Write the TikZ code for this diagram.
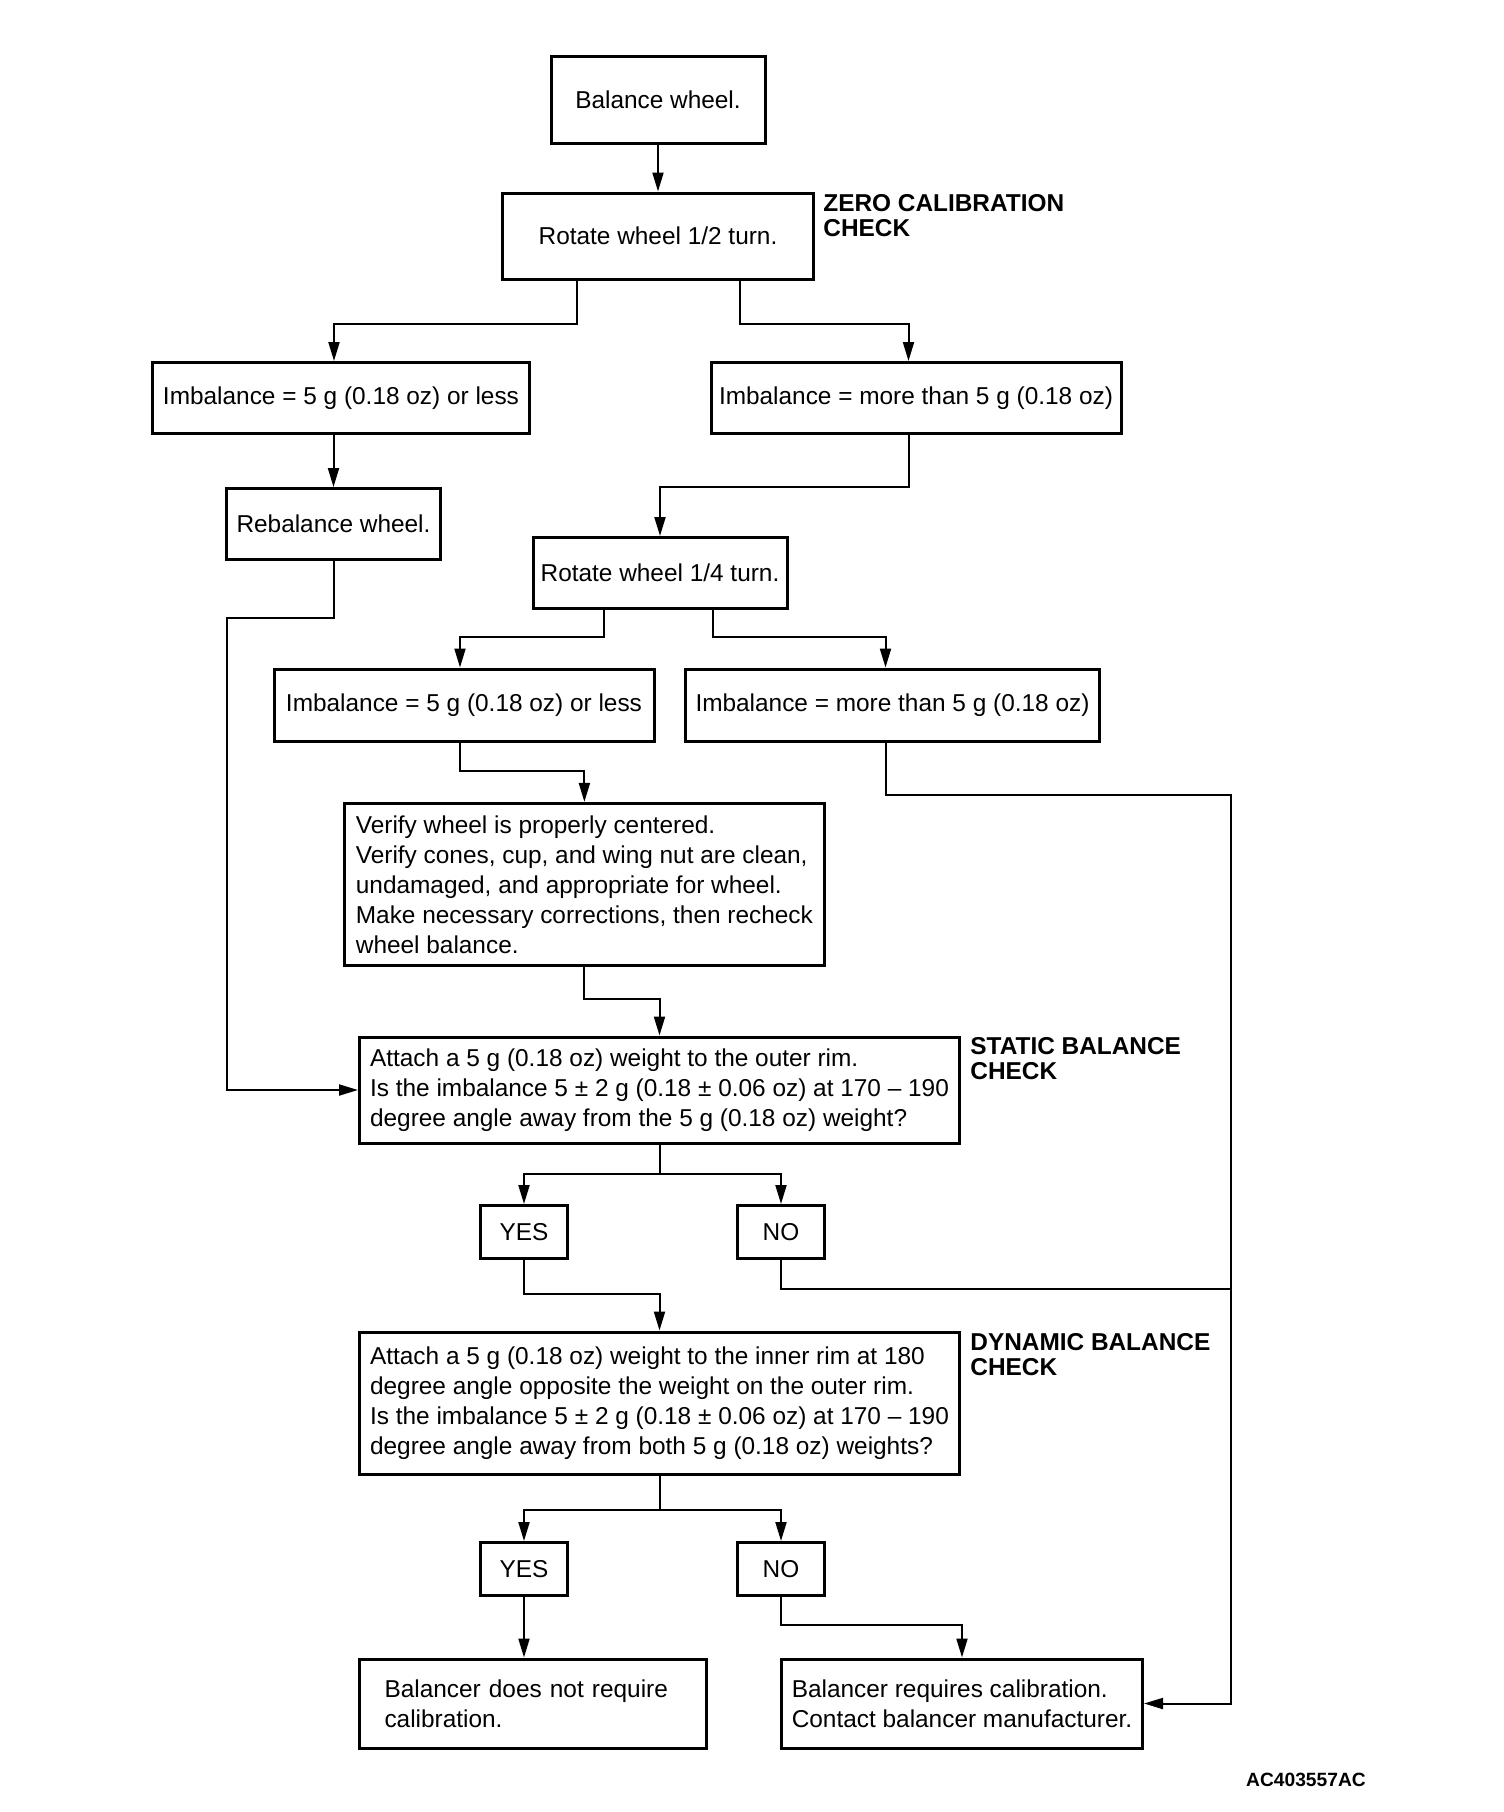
\documentclass[tikz,border=0pt]{standalone}
\usepackage{fontspec}
\setmainfont{Liberation Sans}
\usetikzlibrary{calc}
\usetikzlibrary{arrows.meta}

\begin{document}
\begin{tikzpicture}[x=0.5pt,y=-0.5pt,
  font=\fontsize{12.2}{15}\selectfont,
  box/.style={draw,line width=1.5pt,inner sep=0pt,align=left},
  tag/.style={inner sep=0pt,align=left,anchor=north west,font=\fontsize{12.2}{12.7}\selectfont\bfseries},
  link/.style={line width=1pt},
  arr/.style={link,-{Triangle[length=9.5pt,width=5.5pt]}}]
\def\u{0.5pt}
\useasboundingbox (0,0) rectangle (1504,1812);

\node[box,minimum width=214*\u,minimum height=87*\u] (bal) at (658,100) {Balance wheel.};
\node[box,minimum width=311*\u,minimum height=86*\u] (rot2) at (658,236) {Rotate wheel 1/2 turn.};
\node[tag] (zero) at (823,194) {ZERO CALIBRATION\\CHECK};
\node[box,minimum width=377*\u,minimum height=71*\u] (imbA) at (341,398) {Imbalance = 5 g (0.18 oz) or less};
\node[box,minimum width=410*\u,minimum height=71*\u] (imbB) at (916,398) {Imbalance = more than 5 g (0.18 oz)};
\node[box,minimum width=214*\u,minimum height=71*\u] (rebal) at (333.5,524) {Rebalance wheel.};
\node[box,minimum width=254*\u,minimum height=71*\u] (rot4) at (660,573) {Rotate wheel 1/4 turn.};
\node[box,minimum width=380*\u,minimum height=72*\u] (imbC) at (464,705) {Imbalance = 5 g (0.18 oz) or less};
\node[box,minimum width=414*\u,minimum height=72*\u] (imbD) at (892.5,705) {Imbalance = more than 5 g (0.18 oz)};
\node[box,minimum width=480*\u,minimum height=162*\u] (verify) at (584.4,884.4) {Verify wheel is properly centered.\\Verify cones, cup, and wing nut are clean,\\undamaged, and appropriate for wheel.\\Make necessary corrections, then recheck\\wheel balance.};
\node[box,minimum width=600*\u,minimum height=106*\u] (static) at (659.5,1090) {Attach a 5 g (0.18 oz) weight to the outer rim.\\Is the imbalance 5 ± 2 g (0.18 ± 0.06 oz) at 170 – 190\\degree angle away from the 5 g (0.18 oz) weight?};
\node[tag] (stag) at (970,1037) {STATIC BALANCE\\CHECK};
\node[box,minimum width=87*\u,minimum height=53*\u] (yes1) at (524,1232) {YES};
\node[box,minimum width=87*\u,minimum height=53*\u] (no1) at (781,1232) {NO};
\node[box,minimum width=600*\u,minimum height=142*\u] (dyn) at (659.5,1403) {Attach a 5 g (0.18 oz) weight to the inner rim at 180\\degree angle opposite the weight on the outer rim.\\Is the imbalance 5 ± 2 g (0.18 ± 0.06 oz) at 170 – 190\\degree angle away from both 5 g (0.18 oz) weights?};
\node[tag] (dtag) at (970,1333) {DYNAMIC BALANCE\\CHECK};
\node[box,minimum width=87*\u,minimum height=53*\u] (yes2) at (524,1569) {YES};
\node[box,minimum width=87*\u,minimum height=53*\u] (no2) at (781,1569) {NO};
\node[box,text width=297*\u,inner xsep=25*\u,minimum height=89*\u] (nocal) at (533,1703.5) {Balancer does not require\\calibration.};
\node[box,minimum width=361*\u,minimum height=89*\u] (calib) at (962,1703.5) {Balancer requires calibration.\\Contact balancer manufacturer.};
\node[inner sep=0pt,font=\fontsize{9.6}{10}\selectfont\bfseries] (code) at (1306,1780) {AC403557AC};

\coordinate (railtop) at (1231,795.4);
\coordinate (join) at (1231,1289);

\draw[arr] (bal) -- (rot2);
\draw[arr] ([xshift=-81*\u]rot2.south) -- ++(0,43.5) -| ([xshift=-7*\u]imbA.north);
\draw[arr] ([xshift=82*\u]rot2.south) -- ++(0,43.5) -| ([xshift=-7.5*\u]imbB.north);
\draw[arr] (rebal.north |- imbA.south) -- (rebal.north);
\draw[arr] ([xshift=-7.5*\u]imbB.south) -- ++(0,52) -| (rot4.north);
\draw[arr] (rebal.south) -- ++(0,56.5) -- ++(-107,0) |- (static.west);
\draw[arr] ([xshift=-56.5*\u]rot4.south) -- ++(0,26.7) -| ([xshift=-4*\u]imbC.north);
\draw[arr] ([xshift=53*\u]rot4.south) -- ++(0,26.7) -| ([xshift=-7*\u]imbD.north);
\draw[arr] ([xshift=-4*\u]imbC.south) -- ++(0,28) -| (verify.north);
\draw[arr] ([xshift=-7*\u]imbD.south) |- (railtop) |- (calib.east);
\draw[arr] (verify.south) -- ++(0,32.4) -| (static.north);
\draw[arr] (static.south) -- ++(0,29) -| (yes1.north);
\draw[arr] (static.south) -- ++(0,29) -| (no1.north);
\draw[link] (no1.south) |- (join);
\draw[arr] (yes1.south) -- ++(0,34) -| (dyn.north);
\draw[arr] (dyn.south) -- ++(0,34.6) -| (yes2.north);
\draw[arr] (dyn.south) -- ++(0,34.6) -| (no2.north);
\draw[arr] (yes2.south) -- (yes2.south |- nocal.north);
\draw[arr] (no2.south) -- ++(0,27.5) -| (calib.north);
\end{tikzpicture}
\end{document}
